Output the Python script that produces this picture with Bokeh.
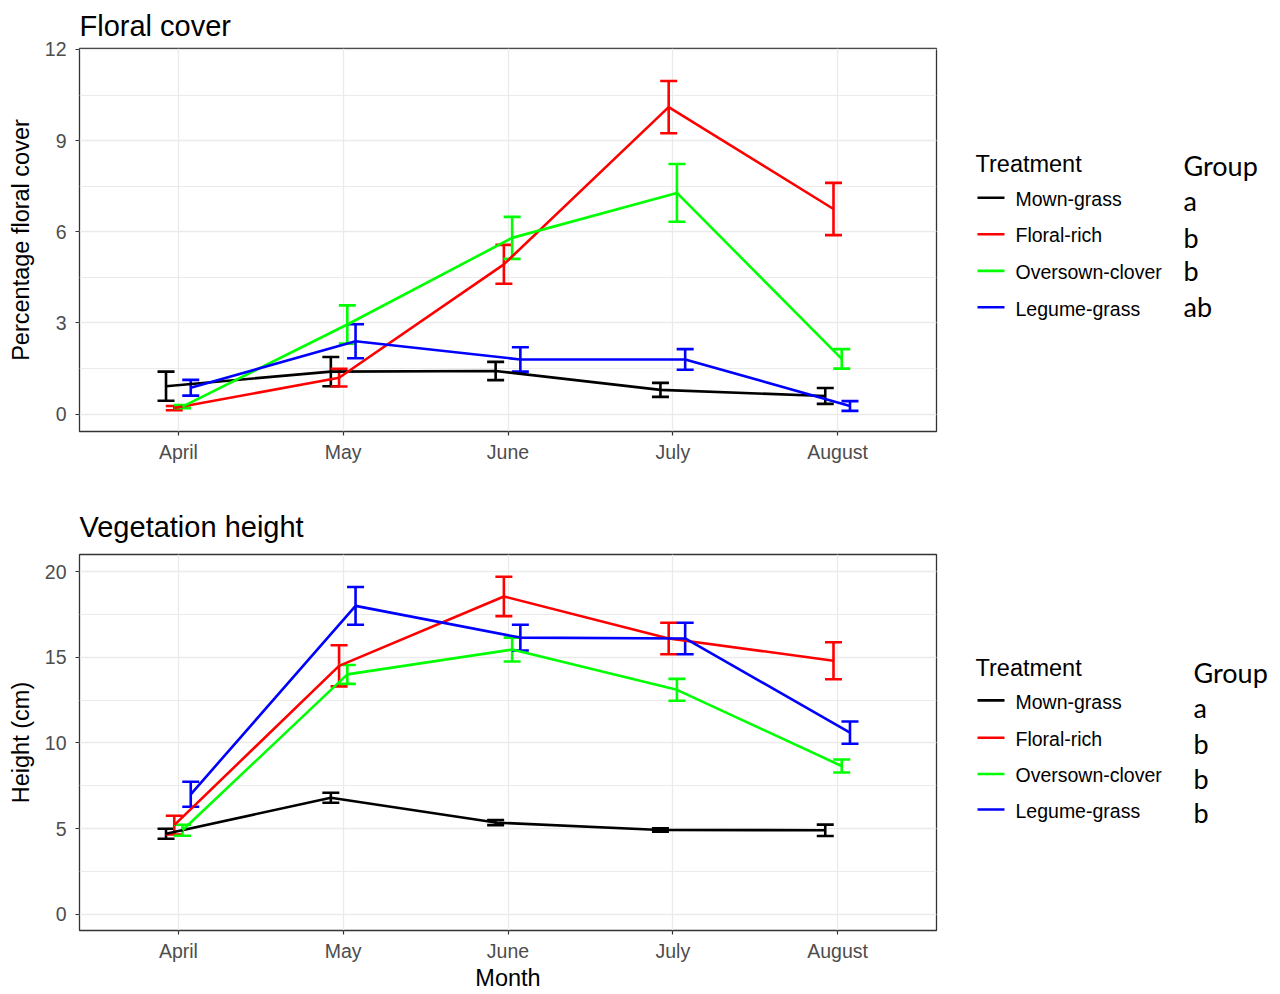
from bokeh.plotting import figure
from bokeh.models import (ColumnDataSource, Range1d, Whisker, TeeHead,
                          SingleIntervalTicker, FixedTicker)
from bokeh.transform import dodge
from bokeh.layouts import row, column
from bokeh.embed import file_html
from bokeh.resources import INLINE
from bokeh.core.properties import value

# ---------------- data ----------------
months = ["April", "May", "June", "July", "August"]
treatments = ["Mown-grass", "Floral-rich", "Oversown-clover", "Legume-grass"]
colors = ["#000000", "#FF0000", "#00FF00", "#0000FF"]

# Floral cover (%) - mean and standard error
cover_mown = [0.92, 1.40, 1.42, 0.80, 0.60]
cover_mown_se = [0.48, 0.48, 0.30, 0.23, 0.26]
cover_floral = [0.20, 1.20, 4.93, 10.10, 6.75]
cover_floral_se = [0.07, 0.29, 0.64, 0.86, 0.86]
cover_clover = [0.25, 2.95, 5.80, 7.28, 1.82]
cover_clover_se = [0.05, 0.63, 0.69, 0.95, 0.32]
cover_legume = [0.87, 2.40, 1.80, 1.80, 0.27]
cover_legume_se = [0.26, 0.56, 0.40, 0.34, 0.16]
cover_groups = ["a", "b", "b", "ab"]

# Vegetation height (cm) - mean and standard error
height_mown = [4.70, 6.80, 5.35, 4.92, 4.90]
height_mown_se = [0.29, 0.29, 0.15, 0.10, 0.33]
height_floral = [5.20, 14.50, 18.55, 16.10, 14.80]
height_floral_se = [0.55, 1.20, 1.15, 0.92, 1.08]
height_clover = [4.90, 14.00, 15.45, 13.10, 8.65]
height_clover_se = [0.32, 0.55, 0.70, 0.64, 0.38]
height_legume = [7.00, 18.00, 16.15, 16.10, 10.60]
height_legume_se = [0.73, 1.10, 0.75, 0.92, 0.65]
height_groups = ["a", "b", "b", "b"]

# ---------------- styling / layout ----------------
FONT = "Liberation Sans"
GROUP_FONT = "Lato"
DODGE = [-0.075, -0.025, 0.025, 0.075]
LW = 2.6
PLOT_W = 950
LEG_W = 329
FRAME_LEFT = 79
FRAME_RIGHT = 936


def make_panel(title, ylabel, means, ses, y_lo, y_hi, interval, height,
               border_top, border_bottom, title_standoff, xlabel=None):
    p = figure(width=PLOT_W, height=height,
               x_range=Range1d(0.4, len(months) + 0.6),
               y_range=Range1d(y_lo, y_hi),
               toolbar_location=None, output_backend="svg",
               min_border_left=FRAME_LEFT,
               min_border_right=PLOT_W - FRAME_RIGHT,
               min_border_top=border_top, min_border_bottom=border_bottom,
               title=title)
    p.background_fill_color = "white"
    p.border_fill_color = "white"
    p.outline_line_color = "#333333"
    p.outline_line_width = 1.3

    p.title.text_font = FONT
    p.title.text_font_size = "29px"
    p.title.text_font_style = "normal"
    p.title.text_color = "black"
    p.title.align = "left"
    p.title.standoff = title_standoff

    xpos = list(range(1, len(months) + 1))
    xt = FixedTicker(ticks=xpos)
    p.xaxis.ticker = xt
    p.xgrid.ticker = xt
    p.xaxis.major_label_overrides = {x: m for x, m in zip(xpos, months)}
    yt = SingleIntervalTicker(interval=interval, num_minor_ticks=2)
    p.yaxis.ticker = yt
    p.ygrid.ticker = yt

    for ax in (p.xaxis, p.yaxis):
        ax.axis_line_color = None
        ax.major_tick_line_color = "#333333"
        ax.major_tick_line_width = 1.2
        ax.major_tick_out = 4
        ax.major_tick_in = 0
        ax.minor_tick_line_color = None
        ax.major_label_text_font = FONT
        ax.major_label_text_font_size = "19.5px"
        ax.major_label_text_color = "#4D4D4D"
        ax.axis_label_text_font = FONT
        ax.axis_label_text_font_size = "23.5px"
        ax.axis_label_text_font_style = "normal"
        ax.axis_label_text_color = "black"
    p.yaxis.major_label_standoff = 9
    p.xaxis.major_label_standoff = 5
    p.yaxis.axis_label = ylabel
    p.yaxis.axis_label_standoff = 8
    if xlabel:
        p.xaxis.axis_label = xlabel
        p.xaxis.axis_label_standoff = 0

    p.xgrid.grid_line_color = "#EBEBEB"
    p.xgrid.grid_line_width = 1.3
    p.ygrid.grid_line_color = "#EBEBEB"
    p.ygrid.grid_line_width = 1.3
    p.ygrid.minor_grid_line_color = "#EBEBEB"
    p.ygrid.minor_grid_line_width = 1.0

    for name, m, s, c, off in zip(treatments, means, ses, colors, DODGE):
        src = ColumnDataSource(dict(
            x=xpos, y=m,
            upper=[a + b for a, b in zip(m, s)],
            lower=[a - b for a, b in zip(m, s)]))
        p.line(x=dodge("x", off), y="y", source=src, line_color=c,
               line_width=LW)
        w = Whisker(source=src, base=dodge("x", off), upper="upper",
                    lower="lower", dimension="height", line_color=c,
                    line_width=LW,
                    upper_head=TeeHead(size=17, line_color=c, line_width=LW),
                    lower_head=TeeHead(size=17, line_color=c, line_width=LW))
        p.add_layout(w)
    return p


def make_legend(height, border_top, border_bottom, frame_top, frame_bottom,
                title_y, swatch_ys, label_ys, group_x, group_y,
                letter_ys, letters):
    # legend area uses page-pixel coordinates (y downwards)
    lf = figure(width=LEG_W, height=height,
                x_range=Range1d(PLOT_W, PLOT_W + LEG_W),
                y_range=Range1d(frame_bottom, frame_top),
                toolbar_location=None, output_backend="svg",
                x_axis_location=None, y_axis_location=None,
                min_border_left=0, min_border_right=0,
                min_border_top=border_top, min_border_bottom=border_bottom)
    lf.grid.visible = False
    lf.outline_line_color = None
    lf.background_fill_color = "white"
    lf.border_fill_color = "white"
    n = len(treatments)
    lf.text(x=[975], y=[title_y], text=["Treatment"], text_font=value(FONT),
            text_font_size="23.5px", text_color="black",
            text_baseline="alphabetic", text_align="left")
    lf.segment(x0=[977] * n, x1=[1004] * n,
               y0=swatch_ys, y1=swatch_ys, line_color=colors, line_width=LW)
    lf.text(x=[1015] * n, y=label_ys, text=treatments,
            text_font=value(FONT), text_font_size="19.5px",
            text_color="black", text_baseline="alphabetic",
            text_align="left")
    lf.text(x=[group_x], y=[group_y], text=["Group"],
            text_font=value(GROUP_FONT), text_font_size="27px",
            text_color="black", text_baseline="alphabetic",
            text_align="left")
    lf.text(x=[group_x] * len(letters), y=letter_ys, text=letters,
            text_font=value(GROUP_FONT), text_font_size="27px",
            text_color="black", text_baseline="alphabetic",
            text_align="left")
    return lf


# top panel: page rows 0..496, frame 47..431
H1, BT1, BB1 = 496, 47, 65
# bottom panel: page rows 496..993, frame 553..932
H2, BT2, BB2 = 497, 57, 61

p1 = make_panel("Floral cover", "Percentage floral cover",
                [cover_mown, cover_floral, cover_clover, cover_legume],
                [cover_mown_se, cover_floral_se, cover_clover_se, cover_legume_se],
                -0.57, 12.03, 3, H1, BT1, BB1, 14)
l1 = make_legend(H1, BT1, BB1, 47, 431, 162.7,
                 [196.7, 233.3, 270.0, 306.5],
                 [198.0, 234.3, 271.0, 307.7], 1183, 164.3,
                 [199.0, 236.0, 270.0, 306.0], cover_groups)

p2 = make_panel("Vegetation height", "Height (cm)",
                [height_mown, height_floral, height_clover, height_legume],
                [height_mown_se, height_floral_se, height_clover_se, height_legume_se],
                -0.95, 21.0, 5, H2, BT2, BB2, 24, xlabel="Month")
l2 = make_legend(H2, BT2, BB2, 553, 932, 667.0,
                 [700.0, 737.7, 774.3, 810.0],
                 [702.0, 738.7, 775.3, 812.0], 1193, 671.7,
                 [707.7, 743.3, 779.0, 813.3], height_groups)

layout = column(row(p1, l1), row(p2, l2))

open("out.html", "w").write(file_html(layout, INLINE))
